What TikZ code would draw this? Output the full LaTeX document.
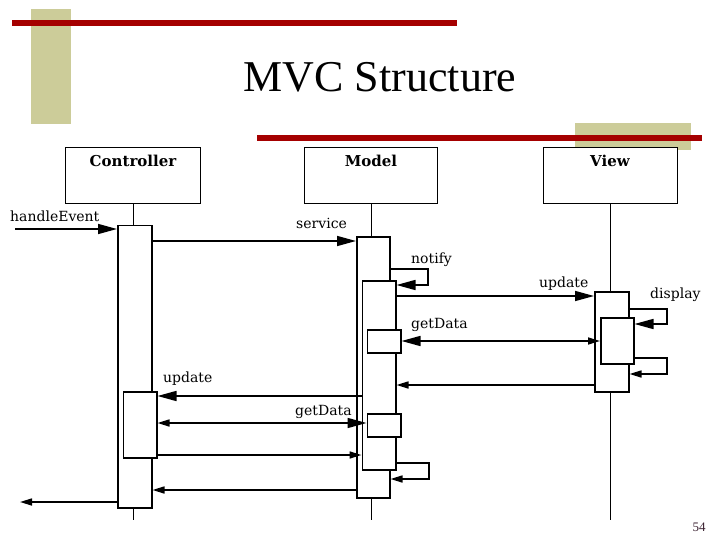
\documentclass[tikz,border=0pt]{standalone}
\usepackage{fontspec}
\setmainfont{Liberation Serif}
\newfontfamily\dvs{DejaVu Serif}
\usetikzlibrary{arrows.meta}
\definecolor{barred}{HTML}{A50000}
\definecolor{tanbar}{HTML}{CCCC99}
\definecolor{pgnum}{HTML}{3A2030}
\begin{document}
\begin{tikzpicture}[x=1pt,y=-1pt,
  objbox/.style={draw, line width=1.4pt, fill=white, anchor=north west, inner sep=0pt},
  actbox/.style={draw, line width=1.5pt, fill=white, anchor=north west, inner sep=0pt},
  life/.style={line width=1.2pt},
  msg/.style={line width=1.6pt},
  bigtip/.style={-{Triangle[length=19pt,width=10pt]}},
  smltip/.style={-{Triangle[length=12pt,width=7pt]}},
  lbl/.style={font=\dvs\fontsize{14}{16}\selectfont, inner sep=0pt, anchor=base west},
  ttl/.style={font=\dvs\bfseries\fontsize{15}{17}\selectfont, inner sep=0pt}]
\useasboundingbox (0,0) rectangle (720,540);
% decorations
\fill[tanbar] (31,9) rectangle (71,124);
\fill[barred] (12,20) rectangle (457,26);
\fill[tanbar] (575,123) rectangle (691,150);
\node[font=\fontsize{44}{50}\selectfont, inner sep=0pt] (title) at (380,77) {MVC Structure};
% object boxes
\node[objbox, minimum width=135pt, minimum height=56pt] (cbox) at (65,147) {};
\node[objbox, minimum width=133pt, minimum height=56pt] (mbox) at (304,147) {};
\node[objbox, minimum width=134pt, minimum height=56pt] (vbox) at (543,147) {};
\fill[barred] (257,135) rectangle (702,141);
\node[ttl] (ctl) at (133,161) {Controller};
\node[ttl] (mtl) at (371,161) {Model};
\node[ttl] (vtl) at (610,161) {View};
% lifelines
\coordinate (cend) at (cbox.south |- 0,520);
\coordinate (mend) at (mbox.south |- 0,520);
\coordinate (vend) at (vbox.south |- 0,520);
\draw[life] (cbox.south) -- (cend);
\draw[life] (mbox.south) -- (mend);
\draw[life] (vbox.south) -- (vend);
% activations
\node[actbox, minimum width=34pt, minimum height=282pt] (cact) at (117,225) {};
\node[actbox, minimum width=33.5pt, minimum height=66pt] (cin) at (122.5,391) {};
\node[actbox, minimum width=33pt, minimum height=261pt] (mact) at (356,236) {};
\node[actbox, minimum width=33.5pt, minimum height=189pt] (min) at (361.5,280) {};
\node[actbox, minimum width=33.5pt, minimum height=23pt] (mgda) at (366.5,329) {};
\node[actbox, minimum width=33.5pt, minimum height=23pt] (mgdb) at (366.5,413) {};
\node[actbox, minimum width=34pt, minimum height=100pt] (vact) at (594,291) {};
\node[actbox, minimum width=33pt, minimum height=46pt] (vin) at (600,317) {};
% messages
\coordinate (hstart) at (15,229);
\draw[msg,bigtip] (hstart) -- (cact.west |- 0,229);
\node[lbl] (lhe) at (10,222) {handleEvent};
\draw[msg,bigtip] (cact.east |- 0,241) -- (mact.west |- 0,241);
\node[lbl] (lsv) at (296,229) {service};
\draw[msg,bigtip] (mact.east |- 0,269) -| (428,285) -- (min.east |- 0,285);
\node[lbl] (lnt) at (411,263) {notify};
\draw[msg,bigtip] (min.east |- 0,296) -- (vact.west |- 0,296);
\node[lbl] (lup) at (539,287) {update};
\draw[msg,bigtip] (vact.east |- 0,309) -| (667,324) -- (vin.east |- 0,324);
\node[lbl] (lds) at (650,298) {display};
\draw[msg,{Triangle[length=19pt,width=10pt]}-{Triangle[length=12pt,width=7pt]}] (mgda.east |- 0,341) -- (vin.west |- 0,341);
\node[lbl] (lgd) at (411,328) {getData};
\draw[msg,smltip] (vin.east |- 0,358) -| (667,374) -- (vact.east |- 0,374);
\draw[msg,smltip] (vact.west |- 0,385) -- (min.east |- 0,385);
\draw[msg,bigtip] (min.west |- 0,396) -- (cin.east |- 0,396);
\node[lbl] (lup2) at (163,382) {update};
\draw[msg,{Triangle[length=12pt,width=7pt]}-{Triangle[length=19pt,width=10pt]}] (cin.east |- 0,423) -- (mgdb.west |- 0,423);
\node[lbl] (lgd2) at (295,415) {getData};
\draw[msg,smltip] (cin.east |- 0,455) -- (min.west |- 0,455);
\draw[msg,smltip] (min.east |- 0,463) -| (429,479) -- (mact.east |- 0,479);
\draw[msg,smltip] (mact.west |- 0,490) -- (cact.east |- 0,490);
\coordinate (fend) at (20,502);
\draw[msg,smltip] (cact.west |- 0,502) -- (fend);
\node[font=\fontsize{13}{15}\selectfont, text=pgnum, inner sep=0pt] (pg) at (699,527) {54};
\end{tikzpicture}
\end{document}
